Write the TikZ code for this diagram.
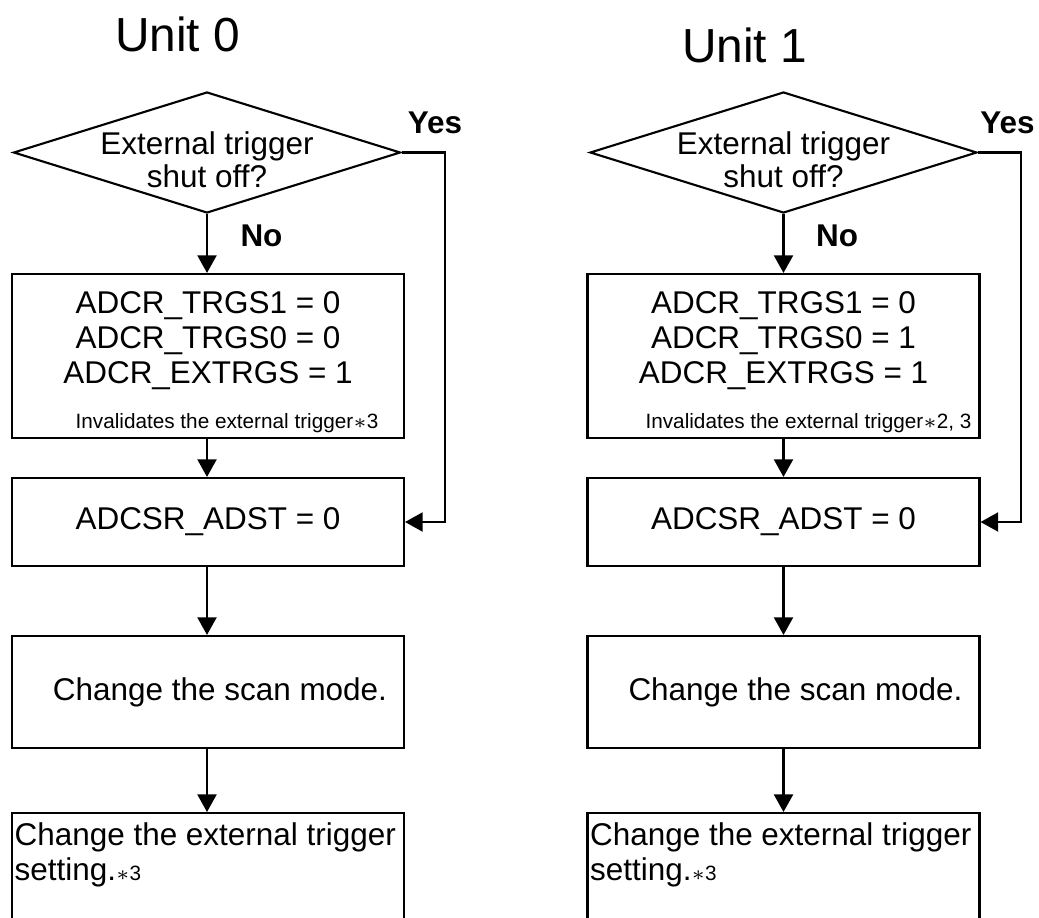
\documentclass[tikz,border=0pt]{standalone}
\usepackage{fontspec}
\setmainfont{Liberation Sans}
\usetikzlibrary{shapes.geometric,arrows.meta}

\newcommand{\flowtext}{\fontsize{8.95}{9.96}\selectfont}
\newcommand{\asktext}{\fontsize{8.95}{9.4}\selectfont}
\newcommand{\notetext}{\fontsize{5.9}{7}\selectfont}
\newcommand{\titletext}{\fontsize{13.6}{16}\selectfont}
\newcommand{\note}[1]{{\notetext$\ast$#1}}

\tikzset{
  decision/.style={draw, line width=0.6pt, diamond, minimum width=3.87cm, minimum height=1.21cm, inner sep=0pt},
  procbox/.style={draw, line width=0.6pt, rectangle, minimum width=3.92cm, inner sep=0pt, align=center, font=\flowtext},
  flowarrow/.style={line width=0.6pt, -{Triangle[length=5pt,width=5.4pt]}},
  answer/.style={font=\flowtext\bfseries},
  unit/.style={font=\titletext, anchor=base},
}

\begin{document}
\begin{tikzpicture}
    \clip (0,0) rectangle (10.39,-9.18);

    % Unit 0
    \node[unit] (unit0) at (1.775,-0.52) {Unit 0};
    \node[decision, label={[align=center, font=\asktext, yshift=-0.07cm]center:{External trigger\\shut off?}}] (d0) at (2.07,-1.525) {};
    \node[procbox, minimum height=1.64cm] (b0a) at (2.08,-3.56) {\rule{0pt}{9.8pt}ADCR\_TRGS1 = 0\\ADCR\_TRGS0 = 0\\ADCR\_EXTRGS = 1\\[2.7pt]\hspace*{0.38cm}\notetext Invalidates the external trigger\note{3}};
    \node[procbox, minimum height=0.88cm] (b0b) at (2.08,-5.22) {ADCSR\_ADST = 0};
    \node[procbox, minimum height=1.12cm] (b0c) at (2.08,-6.92) {\hspace*{0.24cm}Change the scan mode.};
    \node[procbox, minimum height=1.4cm, anchor=north, label={[anchor=north west, align=left, font=\flowtext, inner xsep=0.03cm, inner ysep=0.1cm]north west:{Change the external trigger\\setting.\note{3}}}] (b0d) at (2.08,-8.12) {};
    \node[answer] (yes0) at (4.35,-1.23) {Yes};
    \node[answer] (no0) at (2.615,-2.36) {No};

    % Unit 1
    \node[unit] (unit1) at (7.445,-0.62) {Unit 1};
    \node[decision, label={[align=center, font=\asktext, yshift=-0.07cm]center:{External trigger\\shut off?}}] (d1) at (7.835,-1.525) {};
    \node[procbox, minimum height=1.64cm] (b1a) at (7.835,-3.56) {\rule{0pt}{9.8pt}ADCR\_TRGS1 = 0\\ADCR\_TRGS0 = 1\\ADCR\_EXTRGS = 1\\[2.7pt]\hspace*{0.5cm}\notetext Invalidates the external trigger\note{2, 3}};
    \node[procbox, minimum height=0.88cm] (b1b) at (7.835,-5.22) {ADCSR\_ADST = 0};
    \node[procbox, minimum height=1.12cm] (b1c) at (7.835,-6.92) {\hspace*{0.24cm}Change the scan mode.};
    \node[procbox, minimum height=1.4cm, anchor=north, label={[anchor=north west, align=left, font=\flowtext, inner xsep=0.03cm, inner ysep=0.1cm]north west:{Change the external trigger\\setting.\note{3}}}] (b1d) at (7.835,-8.12) {};
    \node[answer] (yes1) at (10.075,-1.23) {Yes};
    \node[answer] (no1) at (8.37,-2.36) {No};

    % Draw the edges
    \draw[flowarrow] (d0.south) -- (d0.south |- b0a.north);
    \draw[flowarrow] (b0a.south -| d0.south) -- (d0.south |- b0b.north);
    \draw[flowarrow] (b0b.south -| d0.south) -- (d0.south |- b0c.north);
    \draw[flowarrow] (b0c.south -| d0.south) -- (d0.south |- b0d.north);
    \draw[flowarrow] (d0.east) -- ++(0.43,0) |- (b0b.east);

    \draw[flowarrow] (d1.south) -- (d1.south |- b1a.north);
    \draw[flowarrow] (b1a.south -| d1.south) -- (d1.south |- b1b.north);
    \draw[flowarrow] (b1b.south -| d1.south) -- (d1.south |- b1c.north);
    \draw[flowarrow] (b1c.south -| d1.south) -- (d1.south |- b1d.north);
    \draw[flowarrow] (d1.east) -- ++(0.43,0) |- (b1b.east);
\end{tikzpicture}
\end{document}
